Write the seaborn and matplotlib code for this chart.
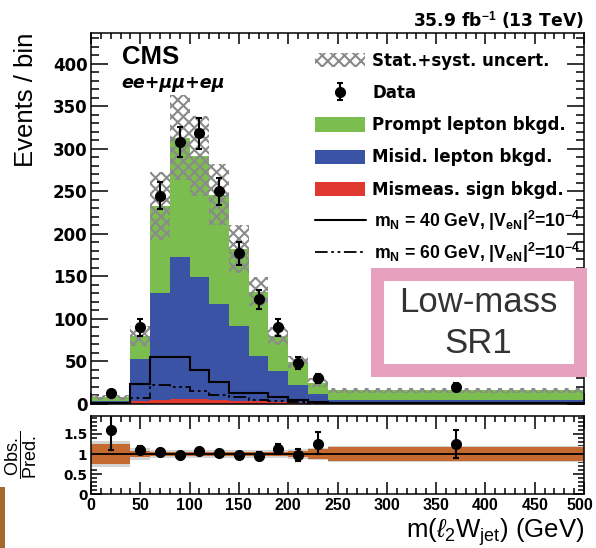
import numpy as np
import pandas as pd
import matplotlib
matplotlib.use("Agg")
import matplotlib.pyplot as plt
import matplotlib.transforms as mtransforms
import seaborn as sns
from matplotlib.patches import Patch, Rectangle
from matplotlib.lines import Line2D
from matplotlib.font_manager import FontProperties
from matplotlib.ticker import MultipleLocator, FixedLocator, FuncFormatter

# ---------------- data ----------------
bin_edges = [0, 40, 60, 80, 100, 120, 140, 160, 180, 200, 220, 240, 500]
prompt  = [5, 27, 103, 140, 143, 128, 90, 76, 41, 27, 13, 11]
misid   = [2.7, 50, 125, 167, 143, 113, 88, 53, 37, 20.8, 11.4, 4.7]
mismeas = [0.3, 3, 5, 6, 6, 5, 4, 3, 2, 1.2, 0.6, 0.3]
bkg_unc = [3, 12, 40, 50, 47, 36, 28, 17, 11, 7, 5, 3]
data_obs = [13, 90, 245, 308, 318, 250, 177, 123, 90, 48, 30, 20]
data_err = [3.6, 9.5, 15.7, 17.5, 17.8, 15.8, 13.3, 11.1, 9.5, 6.9, 5.5, 4.5]
sig_m40 = [1, 24, 55, 55, 40, 26, 13, 13, 8, 5, 2, 1]
sig_m60 = [0.5, 7, 22, 20, 15, 10, 8, 5, 4, 2, 1, 0.5]
ratio      = [1.6, 1.1, 1.05, 0.98, 1.08, 1.03, 0.97, 0.95, 1.12, 0.98, 1.25, 1.25]
ratio_lo   = [0.5, 0.1, 0.07, 0.06, 0.06, 0.07, 0.08, 0.09, 0.12, 0.15, 0.25, 0.35]
ratio_hi   = [0.6, 0.1, 0.07, 0.06, 0.06, 0.07, 0.08, 0.09, 0.12, 0.15, 0.30, 0.35]
band_syst  = [0.25, 0.07, 0.05, 0.05, 0.05, 0.05, 0.06, 0.06, 0.06, 0.08, 0.12, 0.17]
band_total = [0.32, 0.14, 0.11, 0.09, 0.09, 0.09, 0.10, 0.10, 0.11, 0.13, 0.15, 0.20]
proc_names = ["Prompt lepton bkgd.", "Misid. lepton bkgd.", "Mismeas. sign bkgd."]
x_ticks = [0, 50, 100, 150, 200, 250, 300, 350, 400, 450, 500]
y_ticks = [0, 50, 100, 150, 200, 250, 300, 350, 400]
r_ticks = [0, 0.5, 1, 1.5]

# ---------------- style ----------------
GREEN, BLUE, RED = "#7cbd4f", "#3a53a4", "#e0382e"
HATCH_C = "#8a8a8a"
sns.set_theme(style="ticks")
plt.rcParams["font.family"] = ["Liberation Sans", "DejaVu Sans"]
plt.rcParams["mathtext.fontset"] = "custom"
plt.rcParams["mathtext.rm"] = "Liberation Sans"
plt.rcParams["mathtext.it"] = "Liberation Sans:italic"
plt.rcParams["mathtext.bf"] = "Liberation Sans:bold"
plt.rcParams["hatch.linewidth"] = 1.5
for k in ["text.color", "axes.labelcolor", "xtick.color", "ytick.color", "axes.edgecolor"]:
    plt.rcParams[k] = "black"

DJB = "DejaVu Sans"
edges = np.array(bin_edges, dtype=float)
centers = (edges[:-1] + edges[1:]) / 2
widths = np.diff(edges)
total = np.array(prompt) + np.array(misid) + np.array(mismeas)

W, H = 596, 548
fig = plt.figure(figsize=(W / 100, H / 100), dpi=100)
ax = fig.add_axes([91 / W, 1 - 404 / H, (584 - 91) / W, (404 - 33) / H])
axr = fig.add_axes([91 / W, 1 - 494 / H, (584 - 91) / W, (494 - 416) / H])

# stacked backgrounds
df = pd.DataFrame({
    "x": np.tile(centers, 3),
    "w": np.concatenate([prompt, misid, mismeas]),
    "proc": np.repeat(proc_names, len(centers)),
})
sns.histplot(data=df, x="x", weights="w", hue="proc", hue_order=proc_names,
             bins=bin_edges, multiple="stack", element="step",
             palette=[GREEN, BLUE, RED], alpha=1, linewidth=0, legend=False, ax=ax)

# uncertainty hatch
ax.bar(centers, 2 * np.array(bkg_unc), bottom=total - np.array(bkg_unc), width=widths,
       facecolor="none", edgecolor=HATCH_C, hatch="xxx", linewidth=0, zorder=2)

# signals
dashdot = (0, (7, 2, 1.5, 2, 1.5, 2))
ax.stairs(sig_m40, edges, color="black", linewidth=1.5, zorder=3)
ax.stairs(sig_m60, edges, color="black", linewidth=1.3, linestyle=dashdot, zorder=3)

# data
eb = ax.errorbar(centers, data_obs, yerr=data_err, fmt="o", color="black", ms=7,
                 elinewidth=1.5, capsize=2.5, capthick=1.5, zorder=5)

ax.set_xlim(0, 500)
ax.set_ylim(0, 436)
ax.set_xlabel("")
ax.set_ylabel("Events / bin", fontsize=18.5, loc="top")
ax.yaxis.set_label_coords(-0.108, 1.0)
ax.tick_params(labelbottom=False)

# ratio panel
rel = np.array(band_total)
axr.stairs(1 + rel, edges, baseline=1 - rel, fill=True, color="#d4d4d4", linewidth=0, zorder=1)
rel = np.array(band_syst)
axr.stairs(1 + rel, edges, baseline=1 - rel, fill=True, color="#c4692f", linewidth=0, zorder=1.5)
axr.axhline(1, color="black", linewidth=1.3, zorder=2)
axr.errorbar(centers, ratio, yerr=[ratio_lo, ratio_hi], fmt="o", color="black", ms=7,
             elinewidth=1.5, capsize=2.5, capthick=1.5, zorder=5)
axr.set_xlim(0, 500)
axr.set_ylim(0, 1.95)
axr.set_xlabel(r"m($\ell_2$W$_{\mathrm{jet}}$) (GeV)", fontsize=18.5, loc="right")
axr.xaxis.set_label_coords(1.0, -0.29)
axr.set_ylabel(r"$\dfrac{\mathrm{Obs.}}{\mathrm{Pred.}}$", fontsize=13)
axr.yaxis.set_label_coords(-0.105, 0.5)

for a in (ax, axr):
    a.xaxis.set_major_locator(FixedLocator(x_ticks))
    a.xaxis.set_minor_locator(MultipleLocator(10))
    a.tick_params(which="both", direction="in", top=True, right=True, width=1.1, pad=3)
    for s in a.spines.values():
        s.set_visible(True)
        s.set_linewidth(1.1)
ax.yaxis.set_major_locator(FixedLocator(y_ticks))
ax.yaxis.set_minor_locator(MultipleLocator(10))
ax.tick_params(axis="y", which="major", length=12, pad=2.5)
ax.tick_params(axis="y", which="minor", length=6)
ax.tick_params(axis="x", which="major", length=8)
ax.tick_params(axis="x", which="minor", length=4)
axr.yaxis.set_major_locator(FixedLocator(r_ticks))
axr.yaxis.set_minor_locator(MultipleLocator(0.1))
axr.yaxis.set_major_formatter(FuncFormatter(lambda v, p: f"{v:g}"))
axr.tick_params(axis="y", which="major", length=8, pad=2.5)
axr.tick_params(axis="y", which="minor", length=4)
axr.tick_params(axis="x", which="major", length=9)
axr.tick_params(axis="x", which="minor", length=4.5)

fp_main_y = FontProperties(family=DJB, weight="bold", size=12)
fp_r_y = FontProperties(family=DJB, weight="bold", size=9.8)
fp_r_x = FontProperties(family="Liberation Sans", weight="bold", size=11.5)
for lab in ax.get_yticklabels():
    lab.set_fontproperties(fp_main_y)
for lab in axr.get_yticklabels():
    lab.set_fontproperties(fp_r_y)
for lab in axr.get_xticklabels():
    lab.set_fontproperties(fp_r_x)

# texts
ax.text(31 / 493, (404 - 64) / 371, "CMS", transform=ax.transAxes, fontsize=18.5,
        fontweight="bold", va="baseline", ha="left")
ax.text(30 / 493, (404 - 88) / 371, "ee+μμ+eμ", transform=ax.transAxes, fontsize=12.6,
        family=DJB, style="italic", fontweight="bold", va="baseline", ha="left")
ax.text(1.0, (404 - 26) / 371, r"35.9 fb$^{\mathbf{-1}}$ (13 TeV)", transform=ax.transAxes,
        fontsize=12.3, family=DJB, fontweight="bold", va="baseline", ha="right")

# legends
handles1 = [
    Patch(facecolor="white", edgecolor=HATCH_C, hatch="xxx", linewidth=0),
    eb,
    Patch(facecolor=GREEN, linewidth=0),
    Patch(facecolor=BLUE, linewidth=0),
    Patch(facecolor=RED, linewidth=0),
]
labels1 = ["Stat.+syst. uncert.", "Data"] + proc_names
handles2 = [Line2D([], [], color="black", linewidth=1.5),
            Line2D([], [], color="black", linewidth=1.3, linestyle=dashdot)]
labels2 = [
    r"m$_{\mathbf{N}}$ = 40 GeV, |V$_{\mathbf{eN}}$|$^{\mathbf{2}}$=10$^{\mathbf{-4}}$",
    r"m$_{\mathbf{N}}$ = 60 GeV, |V$_{\mathbf{eN}}$|$^{\mathbf{2}}$=10$^{\mathbf{-4}}$",
]
leg1 = fig.legend(handles1, labels1, loc="upper left", bbox_to_anchor=(315 / W, 1 - 52 / H),
                  frameon=False, prop={"family": DJB, "size": 12, "weight": "bold"},
                  handlelength=3.0, handleheight=0.95, handletextpad=0.42,
                  labelspacing=0.85, borderpad=0, borderaxespad=0)
leg2 = fig.legend(handles2, labels2, loc="upper left", bbox_to_anchor=(315 / W, 1 - 209 / H),
                  frameon=False, prop={"family": "Liberation Sans", "size": 12.7, "weight": "bold"},
                  handlelength=2.9, handleheight=0.95, handletextpad=0.42,
                  labelspacing=0.42, borderpad=0, borderaxespad=0)

# signal-region box
box = Rectangle((376.5 / W, 1 - 369.5 / H), (580 - 376.5) / W, (369.5 - 273.5) / H,
                transform=fig.transFigure, facecolor="white", edgecolor="#e8a0bf",
                linewidth=9.4, zorder=3)
fig.add_artist(box)
fig.text(478 / W, 1 - 323 / H, "Low-mass\nSR1", ha="center", va="center", fontsize=25,
         color="#333333", linespacing=1.3, zorder=4)

# stray strip at bottom-left
fig.add_artist(Rectangle((0, 0), 5 / W, (548 - 487) / H, transform=fig.transFigure,
                         facecolor="#a5692d", edgecolor="none", zorder=3))

# keep the last x tick label inside the canvas
fig.canvas.draw()
last = axr.xaxis.get_major_ticks()[-1].label1
last.set_transform(last.get_transform() + mtransforms.ScaledTranslation(-4 / 100, 0, fig.dpi_scale_trans))

fig.savefig("out.png", dpi=100)
